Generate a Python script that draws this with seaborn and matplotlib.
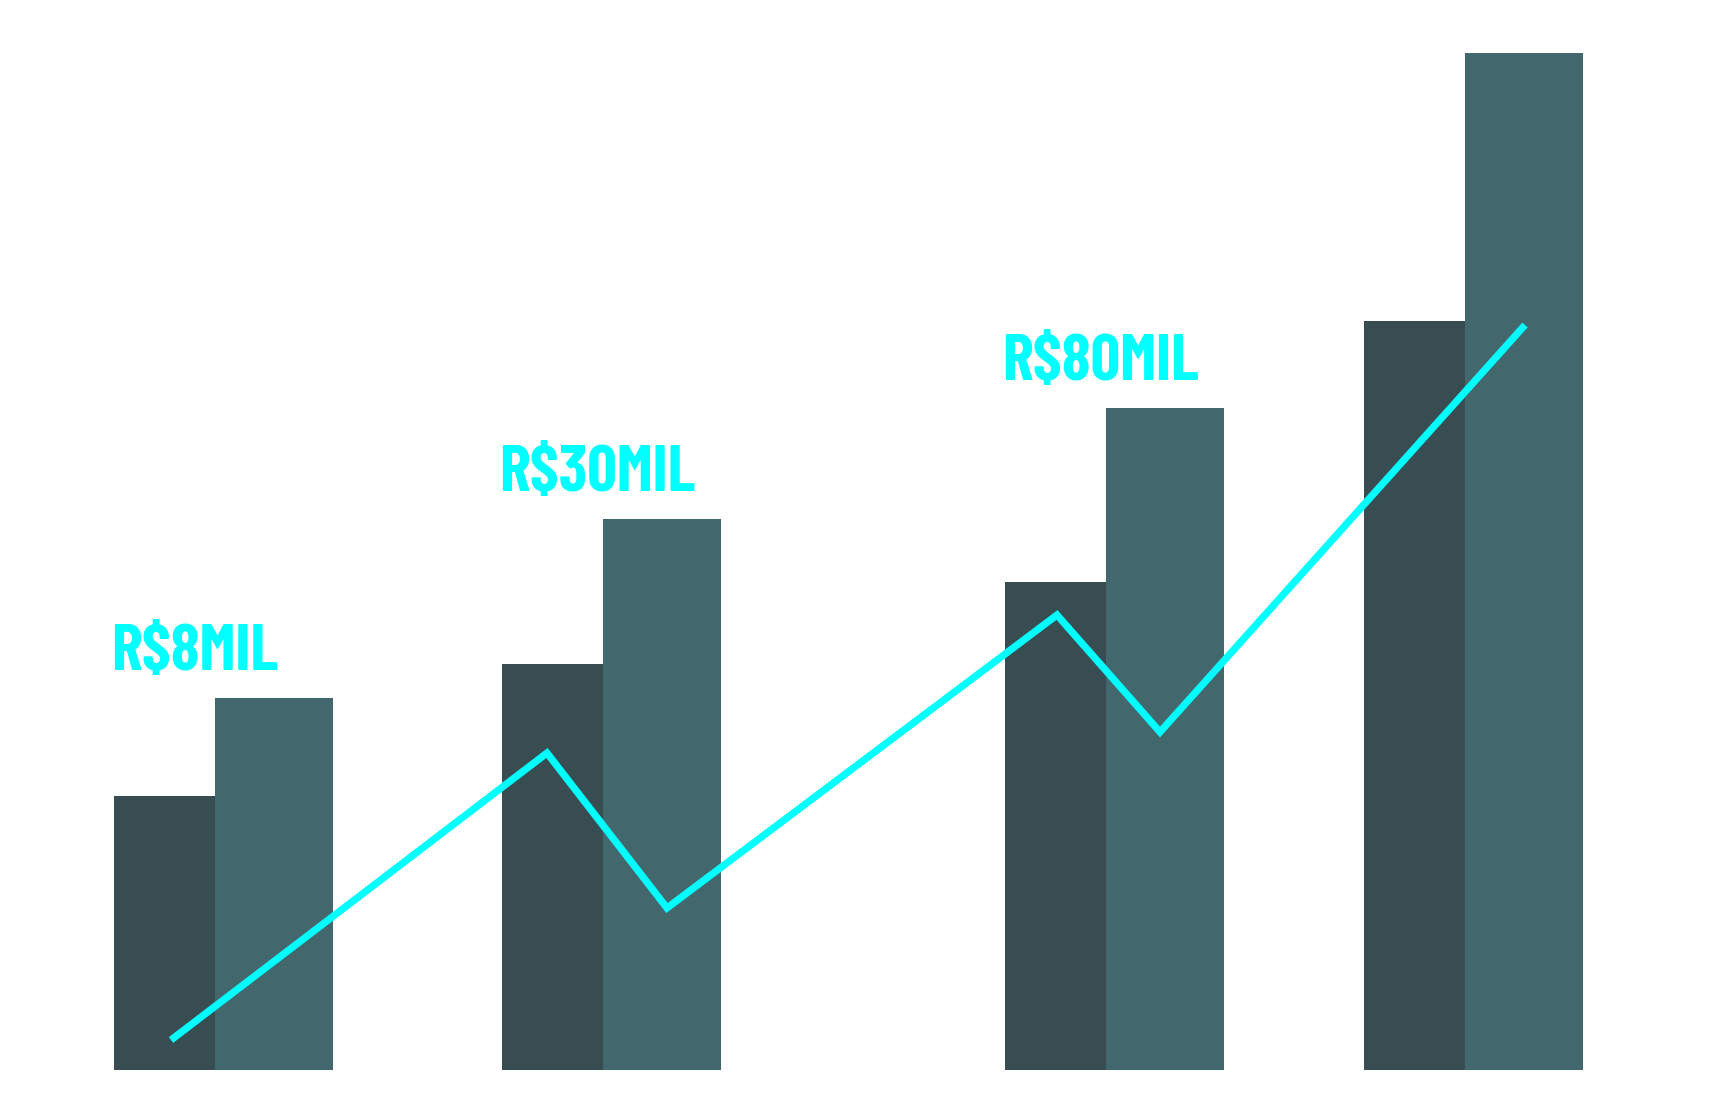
#!/usr/bin/env python3
import matplotlib
matplotlib.use("Agg")
import matplotlib.pyplot as plt
import seaborn as sns

# group positions (boundary between the two bars of each group), in figure-inch units
group_pos = [2.15, 6.03, 11.06, 14.65]
dark_values = [2.74, 4.06, 4.88, 7.49]
light_values = [3.72, 5.51, 6.62, 10.17]

# trend line
line_x = [1.71, 5.47, 6.67, 10.57, 11.60, 15.25]
line_y = [0.30, 3.17, 1.62, 4.55, 3.38, 7.45]

# value labels (one per first three groups)
labels = ["R$8MIL", "R$30MIL", "R$80MIL"]

DARK = "#374D51"
LIGHT = "#42676C"
CYAN = "#00FFFF"

sns.set_theme(style="white")
plt.rcParams["font.family"] = ["Barlow Condensed", "DejaVu Sans"]

fig = plt.figure(figsize=(17.26, 11.03), dpi=100)
ax = fig.add_axes([0, 0, 1, 1])

dark_w, light_w = 1.01, 1.18
ax.bar(group_pos, dark_values, width=-dark_w, align="edge", color=DARK, linewidth=0)
ax.bar(group_pos, light_values, width=light_w, align="edge", color=LIGHT, linewidth=0)

sns.lineplot(x=line_x, y=line_y, sort=False, ax=ax, color=CYAN, linewidth=5.2,
             solid_joinstyle="miter", solid_capstyle="butt", zorder=3)

for lab, gx, lv in zip(labels, group_pos, light_values):
    ax.annotate(lab, xy=(gx - dark_w, lv), xytext=(-2, 20), textcoords="offset points",
                ha="left", va="baseline", color=CYAN, fontsize=47, fontweight="bold",
                zorder=4)

ax.set_xlim(0, 17.26)
ax.set_ylim(-0.33, 10.70)
ax.axis("off")

fig.savefig("out.png", dpi=100, facecolor="white")
